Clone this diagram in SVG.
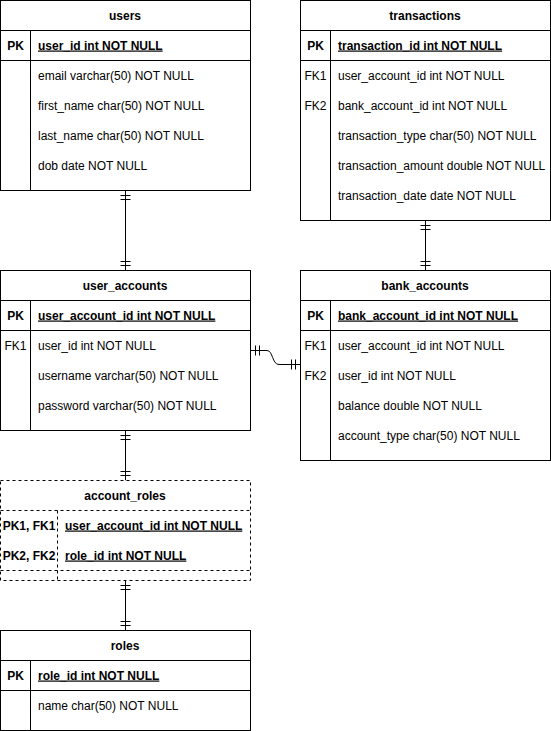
<svg xmlns="http://www.w3.org/2000/svg" width="551" height="731" viewBox="0 0 551 731">
<style>
.box{fill:#fff;stroke:#000;stroke-width:1}
.ln{stroke:#000;stroke-width:1;fill:none}
.dash{stroke-dasharray:3 3}
text{font-family:"Liberation Sans",Arial,Helvetica,sans-serif;font-size:12px;fill:#000}
.h{font-weight:bold;text-anchor:middle}
.k{text-anchor:middle}
.kb{text-anchor:middle;font-weight:bold}
.pk{font-weight:bold;text-decoration:underline}
</style>
<defs>
<marker id="one" markerWidth="14" markerHeight="12" refX="12" refY="6" orient="auto-start-reverse" markerUnits="userSpaceOnUse" overflow="visible">
<path d="M7 1 V11 M3 1 V11" stroke="#000" stroke-width="1" fill="none"/>
</marker>
</defs>
<rect width="551" height="731" fill="#fff"/>
<g id="connectors">
<path class="ln" d="M125.5 190.5 V270.5" marker-start="url(#one)" marker-end="url(#one)"/>
<path class="ln" d="M425.5 220.5 V270.5" marker-start="url(#one)" marker-end="url(#one)"/>
<path class="ln" d="M125.5 430.5 V480.5" marker-start="url(#one)" marker-end="url(#one)"/>
<path class="ln" d="M125.5 580.5 V630.5" marker-start="url(#one)" marker-end="url(#one)"/>
<path class="ln" d="M250.5 350.5 H267 C273 350.5 272 364.5 279 364.5 H300.5" marker-start="url(#one)" marker-end="url(#one)"/>
</g>
<g id="users">
<rect class="box" x="0.5" y="0.5" width="250" height="190"/>
<path class="ln" d="M0.5 30.5 H250.5 M0.5 60.5 H250.5 M30.5 30.5 V190.5"/>
<text class="h" x="125" y="19.5">users</text>
<text class="kb" x="15.5" y="49.5">PK</text>
<text class="pk" x="38" y="49.5">user_id int NOT NULL</text>
<text x="38" y="79.5">email varchar(50) NOT NULL</text>
<text x="38" y="109.5">first_name char(50) NOT NULL</text>
<text x="38" y="139.5">last_name char(50) NOT NULL</text>
<text x="38" y="169.5">dob date NOT NULL</text>
</g>
<g id="transactions">
<rect class="box" x="300.5" y="0.5" width="250" height="220"/>
<path class="ln" d="M300.5 30.5 H550.5 M300.5 60.5 H550.5 M330.5 30.5 V220.5"/>
<text class="h" x="425" y="19.5">transactions</text>
<text class="kb" x="315.5" y="49.5">PK</text>
<text class="pk" x="338" y="49.5">transaction_id int NOT NULL</text>
<text class="k" x="315.5" y="79.5">FK1</text>
<text x="338" y="79.5">user_account_id int NOT NULL</text>
<text class="k" x="315.5" y="109.5">FK2</text>
<text x="338" y="109.5">bank_account_id int NOT NULL</text>
<text x="338" y="139.5">transaction_type char(50) NOT NULL</text>
<text x="338" y="169.5">transaction_amount double NOT NULL</text>
<text x="338" y="199.5">transaction_date date NOT NULL</text>
</g>
<g id="user_accounts">
<rect class="box" x="0.5" y="270.5" width="250" height="160"/>
<path class="ln" d="M0.5 300.5 H250.5 M0.5 330.5 H250.5 M30.5 300.5 V430.5"/>
<text class="h" x="125" y="289.5">user_accounts</text>
<text class="kb" x="15.5" y="319.5">PK</text>
<text class="pk" x="38" y="319.5">user_account_id int NOT NULL</text>
<text class="k" x="15.5" y="349.5">FK1</text>
<text x="38" y="349.5">user_id int NOT NULL</text>
<text x="38" y="379.5">username varchar(50) NOT NULL</text>
<text x="38" y="409.5">password varchar(50) NOT NULL</text>
</g>
<g id="bank_accounts">
<rect class="box" x="300.5" y="270.5" width="250" height="190"/>
<path class="ln" d="M300.5 300.5 H550.5 M300.5 330.5 H550.5 M330.5 300.5 V460.5"/>
<text class="h" x="425" y="289.5">bank_accounts</text>
<text class="kb" x="315.5" y="319.5">PK</text>
<text class="pk" x="338" y="319.5">bank_account_id int NOT NULL</text>
<text class="k" x="315.5" y="349.5">FK1</text>
<text x="338" y="349.5">user_account_id int NOT NULL</text>
<text class="k" x="315.5" y="379.5">FK2</text>
<text x="338" y="379.5">user_id int NOT NULL</text>
<text x="338" y="409.5">balance double NOT NULL</text>
<text x="338" y="439.5">account_type char(50) NOT NULL</text>
</g>
<g id="account_roles">
<rect class="box dash" x="0.5" y="480.5" width="250" height="100"/>
<path class="ln dash" d="M0.5 510.5 H250.5 M0.5 570.5 H250.5 M57.5 510.5 V580.5"/>
<text class="h" x="125" y="499.5">account_roles</text>
<text class="kb" x="29" y="529.5">PK1, FK1</text>
<text class="pk" x="65" y="529.5">user_account_id int NOT NULL</text>
<text class="kb" x="29" y="559.5">PK2, FK2</text>
<text class="pk" x="65" y="559.5">role_id int NOT NULL</text>
</g>
<g id="roles">
<rect class="box" x="0.5" y="630.5" width="250" height="100"/>
<path class="ln" d="M0.5 660.5 H250.5 M0.5 690.5 H250.5 M30.5 660.5 V730.5"/>
<text class="h" x="125" y="649.5">roles</text>
<text class="kb" x="15.5" y="679.5">PK</text>
<text class="pk" x="38" y="679.5">role_id int NOT NULL</text>
<text x="38" y="709.5">name char(50) NOT NULL</text>
</g>
</svg>
